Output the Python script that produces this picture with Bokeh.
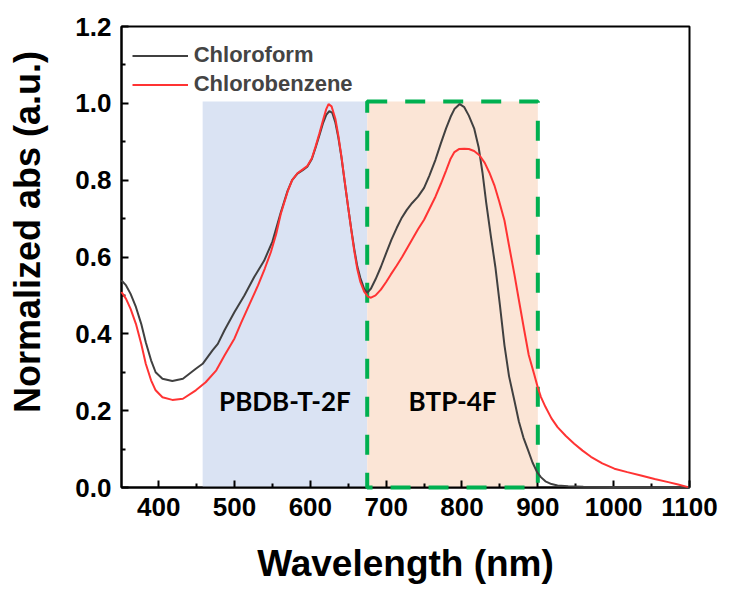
from bokeh.plotting import figure
from bokeh.models import Range1d, FixedTicker, PrintfTickFormatter, Legend, LegendItem
from bokeh.embed import file_html
from bokeh.resources import INLINE
from bokeh.core.properties import value

# ---------------- data ----------------
series_names = ["Chloroform", "Chlorobenzene"]

cf_wavelength = [351, 357, 363, 370, 377, 383, 390, 396, 405, 418,
                 432, 449, 458, 471, 478, 487,
                 500, 513, 526, 539, 550, 561, 570, 576, 583, 590,
                 596, 602, 607, 612, 617, 621, 625, 629, 633, 637,
                 641, 645, 650, 654, 658, 662, 666, 671, 675, 680,
                 686, 693, 700, 707, 714, 720, 727, 734, 742, 750,
                 757, 765, 772, 779, 785, 790, 797, 803, 809, 816,
                 822, 827, 832, 838, 844, 850, 856, 862, 869, 875,
                 881, 887, 893, 899, 904, 910, 918, 926, 940, 960,
                 1000, 1040, 1100]
cf_absorbance = [0.539, 0.526, 0.504, 0.470, 0.426, 0.378, 0.331, 0.300, 0.283, 0.277,
                 0.283, 0.309, 0.322, 0.357, 0.374, 0.410,
                 0.457, 0.500, 0.548, 0.590, 0.640, 0.716, 0.772, 0.800, 0.817, 0.826,
                 0.835, 0.855, 0.885, 0.917, 0.950, 0.970, 0.980, 0.975, 0.950, 0.910,
                 0.860, 0.800, 0.728, 0.672, 0.620, 0.575, 0.545, 0.517, 0.507, 0.518,
                 0.542, 0.574, 0.610, 0.645, 0.676, 0.700, 0.722, 0.740, 0.757, 0.780,
                 0.812, 0.853, 0.895, 0.935, 0.965, 0.985, 0.998, 0.990, 0.968, 0.935,
                 0.885, 0.820, 0.740, 0.655, 0.574, 0.475, 0.370, 0.290, 0.227, 0.172,
                 0.130, 0.098, 0.065, 0.040, 0.027, 0.016, 0.009, 0.005, 0.003, 0.002,
                 0.001, 0.000, 0.000]

cb_wavelength = [351, 357, 363, 370, 377, 383, 390, 396, 405, 418,
                 432, 449, 462, 476, 487, 500,
                 509, 520, 531, 540, 548, 555, 561, 570, 576, 583,
                 590, 596, 602, 607, 612, 617, 621, 624, 628, 633,
                 637, 641, 645, 650, 654, 658, 662, 666, 671, 676,
                 680, 686, 693, 700, 706, 714, 721, 728, 735, 742,
                 750, 757, 765, 772, 779, 785, 790, 796, 803, 809,
                 816, 823, 830, 836, 843, 849, 856, 862, 869, 875,
                 882, 888, 895, 900, 904, 910, 918, 926, 937, 948,
                 959, 970, 985, 1001, 1018, 1036, 1054, 1072, 1085, 1098]
cb_absorbance = [0.509, 0.491, 0.465, 0.426, 0.374, 0.322, 0.279, 0.253, 0.235, 0.228,
                 0.231, 0.253, 0.274, 0.305, 0.344, 0.388,
                 0.430, 0.478, 0.526, 0.570, 0.613, 0.660, 0.712, 0.770, 0.800, 0.818,
                 0.828, 0.837, 0.857, 0.888, 0.922, 0.958, 0.985, 0.998, 0.992, 0.960,
                 0.915, 0.862, 0.802, 0.728, 0.670, 0.615, 0.568, 0.535, 0.510, 0.497,
                 0.494, 0.500, 0.515, 0.535, 0.554, 0.578, 0.600, 0.624, 0.648, 0.672,
                 0.697, 0.725, 0.757, 0.790, 0.825, 0.856, 0.873, 0.881, 0.882, 0.881,
                 0.876, 0.865, 0.845, 0.820, 0.785, 0.745, 0.695, 0.630, 0.556, 0.488,
                 0.410, 0.345, 0.296, 0.260, 0.236, 0.210, 0.180, 0.157, 0.134, 0.114,
                 0.096, 0.080, 0.063, 0.049, 0.040, 0.031, 0.022, 0.014, 0.008, 0.001]

region_names = ["PBDB-T-2F", "BTP-4F"]
region_start = [458, 675]
region_end = [675, 900]
region_top = [1.005, 1.005]
region_label_y = [0.225, 0.225]

x_ticks = [400, 500, 600, 700, 800, 900, 1000, 1100]
x_minor_ticks = [450, 550, 650, 750, 850, 950, 1050]
y_ticks = [0.0, 0.2, 0.4, 0.6, 0.8, 1.0, 1.2]
y_minor_ticks = [0.1, 0.3, 0.5, 0.7, 0.9, 1.1]

x_title = "Wavelength (nm)"
y_title = "Normalized abs (a.u.)"

# ---------------- figure ----------------
FONT = "Liberation Sans"
p = figure(width=730, height=593, output_backend="svg", toolbar_location=None,
           x_range=Range1d(351, 1100), y_range=Range1d(0, 1.2),
           min_border_left=121, min_border_right=41, min_border_top=26, min_border_bottom=106)
p.grid.visible = False
p.outline_line_color = "black"
p.outline_line_width = 2
p.background_fill_color = "white"
p.border_fill_color = "white"

region_mid = [(a + b) / 2 for a, b in zip(region_start, region_end)]

p.quad(left=region_start, right=region_end, bottom=0, top=region_top,
       fill_color=["#DAE3F3", "#FBE5D6"], line_color=None)

p.quad(left=region_start[1], right=region_end[1], bottom=0, top=region_top[1],
       fill_color=None, line_color="#00B050", line_width=4, line_dash="20 18",
       level="overlay")

r_cf = p.line(cf_wavelength, cf_absorbance, line_color="#404040", line_width=2, level="overlay")
r_cb = p.line(cb_wavelength, cb_absorbance, line_color="#FF3333", line_width=2, level="overlay")

p.text(x=region_mid, y=region_label_y, text=region_names,
       text_font=value("Lato"), text_font_style="bold", text_font_size="26px",
       text_align="center", text_baseline="middle", text_color="black")

# axes
for ax, ticks, minor in ((p.xaxis[0], x_ticks, x_minor_ticks), (p.yaxis[0], y_ticks, y_minor_ticks)):
    ax.ticker = FixedTicker(ticks=ticks, minor_ticks=minor)
    ax.axis_line_width = 2
    ax.major_tick_line_width = 2
    ax.minor_tick_line_width = 2
    ax.major_tick_in = 7
    ax.major_tick_out = 0
    ax.minor_tick_in = 4
    ax.minor_tick_out = 0
    ax.major_label_text_font = FONT
    ax.major_label_text_font_style = "bold"
    ax.major_label_text_font_size = "26px"
    ax.major_label_text_color = "black"
    ax.axis_line_color = "black"
    ax.major_tick_line_color = "black"
    ax.minor_tick_line_color = "black"
    ax.axis_label_text_font = FONT
    ax.axis_label_text_font_style = "bold"
    ax.axis_label_text_color = "black"

p.xaxis.major_label_standoff = 10
p.yaxis.major_label_standoff = 10
p.yaxis.formatter = PrintfTickFormatter(format="%.1f")

p.xaxis.axis_label = x_title
p.xaxis.axis_label_text_font_size = "37px"
p.xaxis.axis_label_standoff = 24

# leading no-break spaces shift the centred vertical title toward the top
p.yaxis.axis_label = "\u00a0" * 5 + y_title
p.yaxis.axis_label_text_font_size = "36px"
p.yaxis.axis_label_standoff = 24

# legend
legend = Legend(items=[LegendItem(label=series_names[0], renderers=[r_cf]),
                       LegendItem(label=series_names[1], renderers=[r_cb])],
                location=(10.7, 388.5), padding=5, margin=0, spacing=0,
                glyph_width=56, glyph_height=29, label_height=29, label_standoff=6,
                label_text_font=FONT, label_text_font_style="bold", label_text_font_size="22px",
                border_line_color=None, background_fill_alpha=0)
p.add_layout(legend)

open("out.html", "w").write(file_html(p, INLINE))
